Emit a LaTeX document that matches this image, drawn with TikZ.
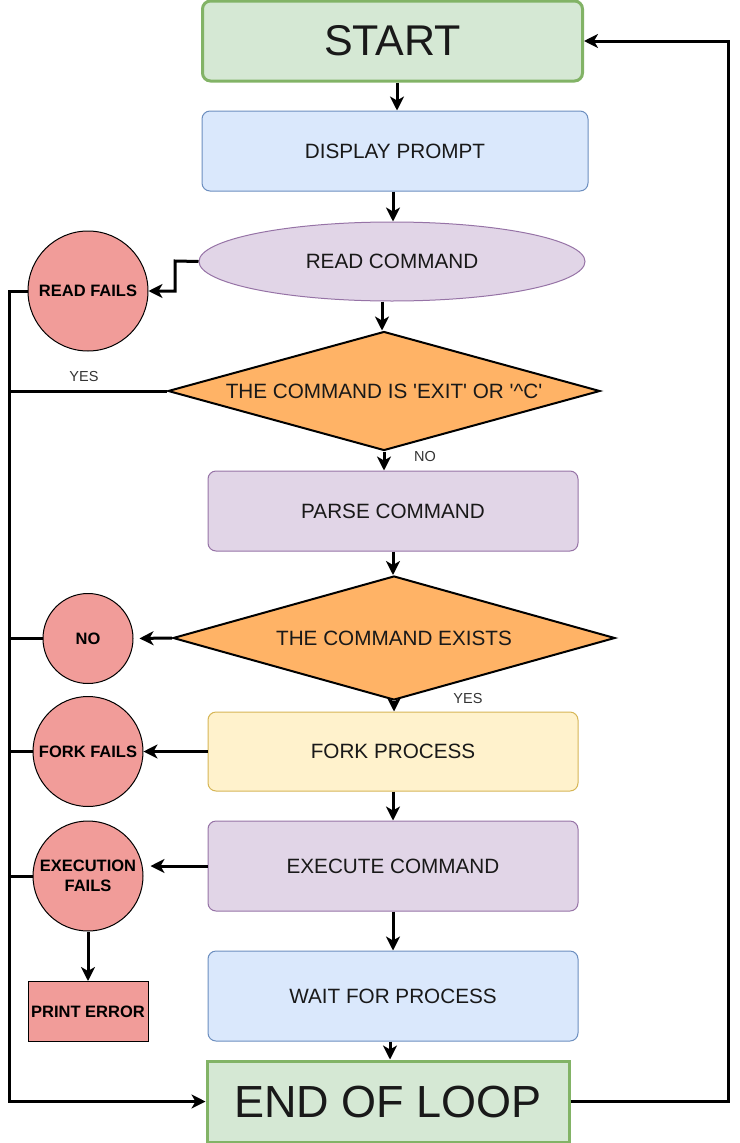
\documentclass[tikz,border=0pt]{standalone}
\usepackage{fontspec}
\setmainfont{Liberation Sans}
\usetikzlibrary{shapes.geometric,arrows.meta}
\definecolor{greenfill}{HTML}{D5E8D4}
\definecolor{greenline}{HTML}{82B366}
\definecolor{bluefill}{HTML}{DAE8FC}
\definecolor{blueline}{HTML}{6C8EBF}
\definecolor{purplefill}{HTML}{E1D5E7}
\definecolor{purpleline}{HTML}{9673A6}
\definecolor{yellowfill}{HTML}{FFF2CC}
\definecolor{yellowline}{HTML}{D6B656}
\definecolor{orangefill}{HTML}{FFB366}
\definecolor{redfill}{HTML}{F19C99}
\definecolor{labelgray}{HTML}{333333}
\begin{document}
\begin{tikzpicture}[x=1pt,y=-1pt,
	box/.style={draw,line width=1pt,rounded corners=8pt,minimum width=370pt,minimum height=80pt,inner sep=0pt,text=black!90,font=\fontsize{20.7}{25}\selectfont},
	decision/.style={diamond,draw,line width=2pt,fill=orangefill,aspect=3.6,inner sep=0pt,text=black!90,font=\fontsize{20.7}{25}\selectfont},
	failc/.style={circle,draw,line width=1pt,fill=redfill,inner sep=0pt,align=center,font=\bfseries\fontsize{16.5}{20}\selectfont},
	lbl/.style={text=labelgray,inner sep=0pt,font=\fontsize{14.5}{17}\selectfont},
	line/.style={line width=3pt},
	conn/.style={line width=3pt,-{Stealth[length=14pt,width=14pt,inset=4pt]}}]
	\useasboundingbox (0,0) rectangle (739,1143);
	\node[box,fill=greenfill,draw=greenline,line width=3pt,minimum width=380pt,font=\fontsize{43}{50}\selectfont] (start) at (392.5,41) {START};
	\node[box,fill=bluefill,draw=blueline,minimum width=386pt] (prompt) at (395,151) {DISPLAY PROMPT};
	\node[ellipse,draw=purpleline,line width=1pt,fill=purplefill,minimum width=386pt,minimum height=79pt,inner sep=0pt,text=black!90,font=\fontsize{20.7}{25}\selectfont] (readcmd) at (392,261.5) {READ COMMAND};
	\node[failc,minimum size=120pt] (readfail) at (88,291) {READ FAILS};
	\node[decision,minimum width=432pt,minimum height=119pt] (exitq) at (384,391) {THE COMMAND IS \textquotesingle EXIT\textquotesingle{} OR \textquotesingle\textasciicircum C\textquotesingle};
	\node[box,fill=purplefill,draw=purpleline] (parse) at (393,511) {PARSE COMMAND};
	\node[decision,minimum width=442pt,minimum height=124pt] (existq) at (394,638) {THE COMMAND EXISTS};
	\node[failc,minimum size=90pt] (noexist) at (88,638.5) {NO};
	\node[box,fill=yellowfill,draw=yellowline,minimum height=79pt] (fork) at (393,751.5) {FORK PROCESS};
	\node[failc,minimum size=110pt] (forkfail) at (88,751.5) {FORK FAILS};
	\node[box,fill=purplefill,draw=purpleline,minimum height=90pt] (exec) at (393,866) {EXECUTE COMMAND};
	\node[failc,minimum size=110pt] (execfail) at (88,876) {EXECUTION\\FAILS};
	\node[draw,line width=1pt,fill=redfill,minimum width=120pt,minimum height=60pt,inner sep=0pt,font=\bfseries\fontsize{16.5}{20}\selectfont] (printerr) at (88,1011.5) {PRINT ERROR};
	\node[box,fill=bluefill,draw=blueline,minimum height=90pt] (wait) at (393,996) {WAIT FOR PROCESS};
	\node[box,sharp corners,fill=greenfill,draw=greenline,line width=3pt,minimum width=362pt,minimum height=81pt,font=\fontsize{45}{52}\selectfont] (endloop) at (388,1101.5) {END OF LOOP};
	\node[lbl] (yeslbl) at (84,377) {YES};
	\node[lbl] (nolbl) at (425,457) {NO};
	\node[lbl] (yeslbl2) at (468,698) {YES};
	\coordinate (rjog) at (175,261);
	\coordinate (bus) at (9,291);
	\coordinate (rloop) at (728,41);
	\draw[conn] ([xshift=4.5pt]start.south) -- ([xshift=4.5pt]start.south |- prompt.north);
	\draw[conn] ([xshift=-2pt]prompt.south) -- ([xshift=-2pt]prompt.south |- readcmd.north);
	\draw[conn] (readcmd.west) -- (rjog) |- (readfail.east);
	\draw[conn] ([xshift=-10pt]readcmd.south) -- ([xshift=-10pt]readcmd.south |- exitq.north);
	\draw[conn] (exitq.south) -- (exitq.south |- parse.north);
	\draw[conn] (parse.south) -- (parse.south |- existq.north);
	\draw[conn,shorten >=6pt] (existq.west) -- (noexist.east);
	\draw[conn] (existq.south) -- (existq.south |- fork.north);
	\draw[conn] (fork.west) -- (forkfail.east);
	\draw[conn] (fork.south) -- (fork.south |- exec.north);
	\draw[conn,shorten >=7pt] (exec.west) -- (exec.west -| execfail.east);
	\draw[conn] (execfail.south) -- (printerr.north);
	\draw[conn] (exec.south) -- (exec.south |- wait.north);
	\draw[conn] ([xshift=-3pt]wait.south) -- ([xshift=-3pt]wait.south |- endloop.north);
	\draw[conn] (readfail.west) -- (bus) |- (endloop.west);
	\draw[line] (exitq.west) -- (exitq.west -| bus);
	\draw[line] (noexist.west) -- (noexist.west -| bus);
	\draw[line] (forkfail.west) -- (forkfail.west -| bus);
	\draw[line] (execfail.west) -- (execfail.west -| bus);
	\draw[conn] (endloop.east) -| (rloop) -- (start.east);
\end{tikzpicture}
\end{document}
